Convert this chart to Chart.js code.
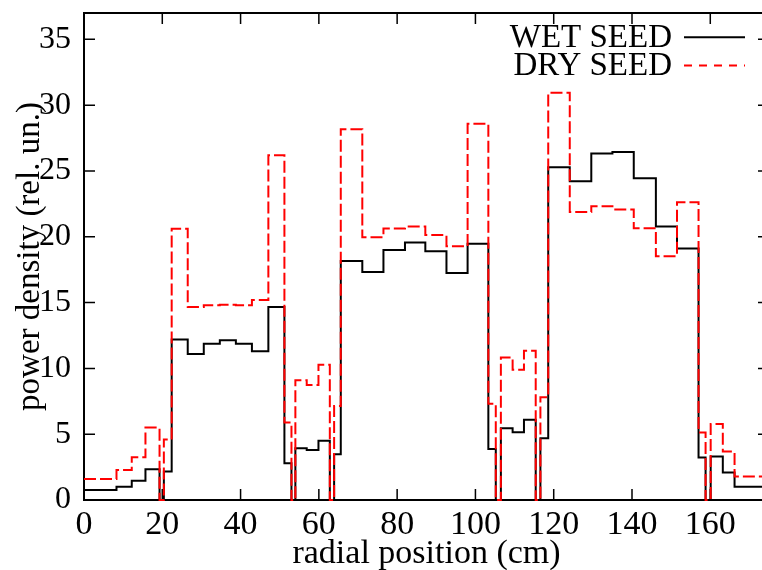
<!DOCTYPE html>
<html><head><meta charset="utf-8">
<script src="https://cdn.jsdelivr.net/npm/chart.js@4/dist/chart.umd.min.js"></script>
<style>html,body{margin:0;padding:0;overflow:hidden;background:#fff;width:762px;height:570px}canvas{display:block}</style>
</head><body>
<canvas id="c" width="770" height="570" style="width:770px;height:570px"></canvas>
<script>
// radial bin edges (cm)
const binEdges = [0, 8.3, 12.2, 15.7, 19.3, 20.4, 22.4, 26.5, 30.6, 34.7, 38.8, 42.9, 47.1, 51.2, 53.0, 54.0,
  56.9, 59.9, 62.8, 63.9, 65.6, 71.1, 76.5, 82.0, 87.2, 92.6, 98.0, 103.3, 105.2, 106.5, 109.5, 112.4,
  115.4, 116.6, 118.6, 124.1, 129.6, 135.0, 140.45, 146.1, 151.5, 157.0, 158.8, 160.1, 163.2, 166.2, 175];
// power density per bin
const wetSeed = [0.76, 1.0, 1.47, 2.33, 0, 2.16, 12.2, 11.1, 11.87, 12.13, 11.87, 11.31, 14.66, 2.79, 0,
  3.93, 3.8, 4.51, 0, 3.48, 18.16, 17.33, 19.0, 19.56, 18.9, 17.25, 19.46, 3.88, 0, 5.45, 5.15, 6.09, 0,
  4.69, 25.29, 24.22, 26.33, 26.43, 24.45, 20.78, 19.1, 3.22, 0, 3.3, 2.08, 1.01];
const drySeed = [1.6, 2.28, 3.25, 5.5, 0, 4.6, 20.6, 14.66, 14.79, 14.84, 14.8, 15.2, 26.2, 5.88, 0,
  9.1, 8.73, 10.27, 0, 7.15, 28.16, 19.96, 20.62, 20.78, 20.14, 19.28, 28.59, 7.31, 0, 10.83, 9.89, 11.34, 0,
  7.81, 30.95, 21.89, 22.32, 22.07, 20.65, 18.52, 22.63, 5.12, 0, 5.78, 3.68, 1.78];
const seriesLabels = ['WET SEED', 'DRY SEED'];
const xTicks = [0, 20, 40, 60, 80, 100, 120, 140, 160];
const yTicks = [0, 5, 10, 15, 20, 25, 30, 35];
const xRange = [0, 175];
const yRange = [0, 37];

function stepPoints(vals) {
  const pts = vals.map((v, i) => ({x: binEdges[i], y: v}));
  pts.push({x: binEdges[binEdges.length - 1], y: vals[vals.length - 1]});
  return pts;
}

const SERIF = '"Liberation Serif", "Times New Roman", serif';

const framePlugin = {
  id: 'frame',
  beforeDatasetsDraw(chart) {
    const {ctx, chartArea: a, scales: {x, y}} = chart;
    ctx.save();
    ctx.strokeStyle = '#000';
    ctx.lineWidth = 1.5;
    const tl = 11;
    ctx.beginPath();
    x.ticks.forEach(t => {
      const px = x.getPixelForValue(t.value);
      ctx.moveTo(px, a.bottom); ctx.lineTo(px, a.bottom - tl);
      ctx.moveTo(px, a.top); ctx.lineTo(px, a.top + tl);
    });
    y.ticks.forEach(t => {
      const py = y.getPixelForValue(t.value);
      ctx.moveTo(a.left, py); ctx.lineTo(a.left + tl, py);
      ctx.moveTo(a.right, py); ctx.lineTo(a.right - tl, py);
    });
    ctx.stroke();
    ctx.lineWidth = 2;
    ctx.strokeRect(a.left, a.top, a.right - a.left, a.bottom - a.top);
    ctx.restore();
  },
  afterDraw(chart) {
    const {ctx} = chart;
    ctx.save();
    ctx.font = '33px ' + SERIF;
    ctx.textAlign = 'right';
    ctx.textBaseline = 'alphabetic';
    chart.data.datasets.forEach((ds, i) => {
      const base = 46.7 + 28.3 * i;
      ctx.fillStyle = '#000';
      ctx.fillText(ds.label, 672, base);
      ctx.strokeStyle = ds.borderColor;
      ctx.lineWidth = 2;
      ctx.setLineDash(i === 0 ? [] : [8, 7]);
      ctx.beginPath();
      ctx.moveTo(684, base - 9.5);
      ctx.lineTo(745, base - 9.5);
      ctx.stroke();
    });
    ctx.restore();
  }
};

new Chart(document.getElementById('c'), {
  type: 'line',
  data: {
    datasets: [
      {label: seriesLabels[0], data: stepPoints(wetSeed), borderColor: '#000000', borderWidth: 2,
       stepped: 'before', pointRadius: 0, fill: false, order: 1, clip: 6},
      {label: seriesLabels[1], data: stepPoints(drySeed), borderColor: '#ff0000', borderWidth: 2,
       borderDash: [12, 4], stepped: 'before', pointRadius: 0, fill: false, order: 0, clip: 6}
    ]
  },
  options: {
    responsive: false,
    animation: false,
    devicePixelRatio: 1,
    layout: {padding: {top: 13, right: 1, left: 0, bottom: 0}},
    plugins: {legend: {display: false}, tooltip: {enabled: false}},
    scales: {
      x: {
        type: 'linear', min: xRange[0], max: xRange[1],
        afterBuildTicks: s => { s.ticks = xTicks.map(v => ({value: v})); },
        afterFit: s => { s.height = 70; s.paddingLeft = 0; s.paddingRight = 0; },
        grid: {display: false, drawTicks: false},
        border: {display: false},
        ticks: {color: '#000', padding: 5, maxRotation: 0, autoSkip: false,
                font: {family: SERIF, size: 34}},
        title: {display: true, text: 'radial position (cm)', color: '#000',
                font: {family: SERIF, size: 34, lineHeight: 0.91}, padding: 0}
      },
      y: {
        type: 'linear', min: yRange[0], max: yRange[1],
        afterBuildTicks: s => { s.ticks = yTicks.map(v => ({value: v})); },
        afterFit: s => { s.width = 84; s.paddingTop = 0; s.paddingBottom = 0; },
        grid: {display: false, drawTicks: false},
        border: {display: false},
        ticks: {color: '#000', padding: 13, autoSkip: false,
                font: {family: SERIF, size: 32}},
        title: {display: true, text: 'power density (rel. un.)', color: '#000',
                font: {family: SERIF, size: 33, lineHeight: 1}, padding: {top: 14, bottom: 0}}
      }
    }
  },
  plugins: [framePlugin]
});
</script>
</body></html>
